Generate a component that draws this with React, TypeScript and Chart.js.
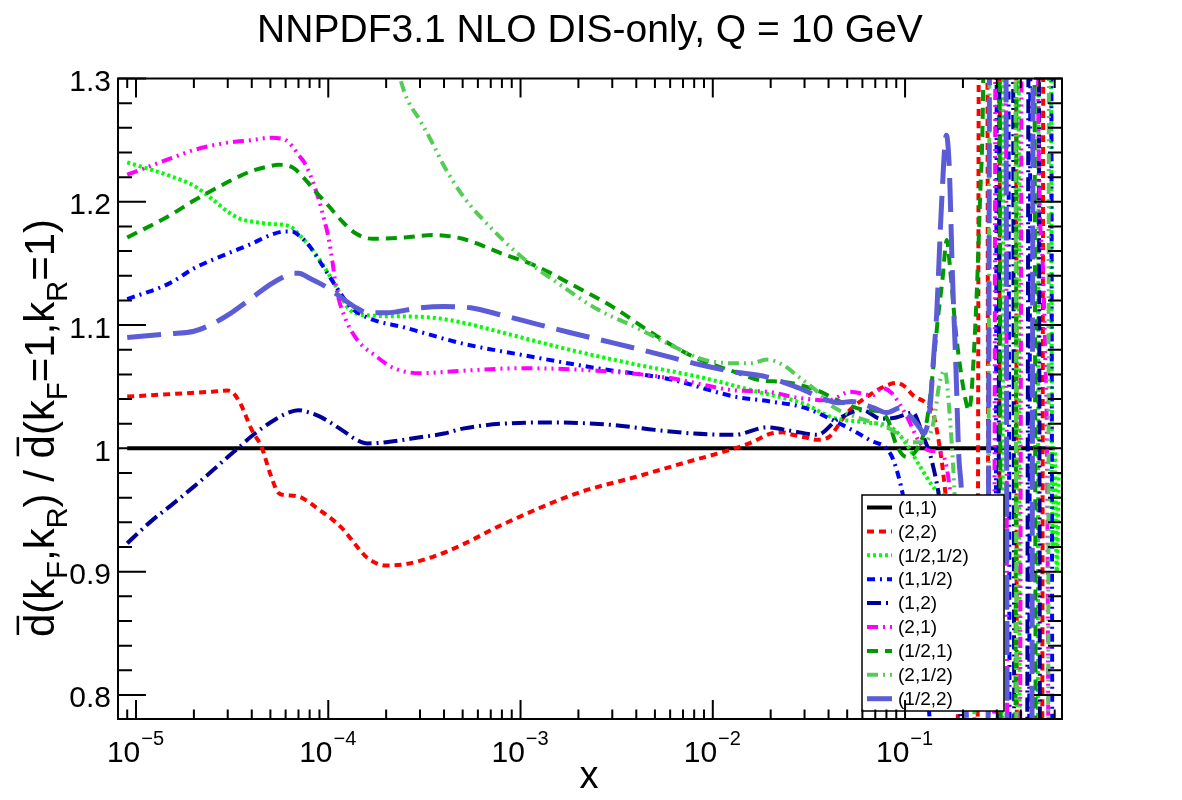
import React, { useEffect, useRef } from "react";
import { Chart, registerables } from "chart.js";

Chart.register(...registerables);

const FONT = '"Liberation Sans", Arial, Helvetica, sans-serif';

const TITLE = "NNPDF3.1 NLO DIS-only, Q = 10 GeV";
const X_TITLE = "x";
const X_MIN = 8.06e-6;
const X_MAX = 0.655;
const Y_MIN = 0.7805;
const Y_MAX = 1.3;
const Y_TICK_VALUES = [0.8, 0.9, 1.0, 1.1, 1.2, 1.3];
const Y_TICK_LABELS = ["0.8", "0.9", "1", "1.1", "1.2", "1.3"];
const X_TICK_DECADES = [-5, -4, -3, -2, -1];

// (1,1)
const X_11 = [9e-6, 0.6];
const Y_11 = [1, 1];

// (2,2)
const X_22 = [9e-6, 1.5e-5, 2.5e-5, 3e-5, 3.2e-5, 3.5e-5, 4e-5, 4.5e-5, 5e-5, 5.5e-5, 6e-5, 7e-5, 8e-5, 9e-5, 1e-4, 1.2e-4, 1.4e-4, 1.6e-4, 2e-4, 2.5e-4, 3.5e-4, 5e-4, 8e-4, 2e-3, 4e-3, 7e-3, 1.3e-2, 1.6e-2, 2e-2, 2.3e-2, 2.6e-2, 3e-2, 3.5e-2, 4e-2, 5e-2, 6.5e-2, 8e-2, 9e-2, 0.1, 0.11, 0.13, 0.14, 0.15, 0.16, 0.175, 0.195, 0.21, 0.235, 0.245, 0.265, 0.275, 0.305, 0.315, 0.375, 0.385, 0.51, 0.53, 0.55];
const Y_22 = [1.042, 1.044, 1.046, 1.047, 1.045, 1.036, 1.015, 1.001, 0.979, 0.964, 0.962, 0.961, 0.956, 0.95, 0.945, 0.934, 0.921, 0.911, 0.905, 0.906, 0.912, 0.922, 0.938, 0.964, 0.977, 0.988, 1.0, 1.005, 1.012, 1.013, 1.011, 1.009, 1.007, 1.009, 1.029, 1.043, 1.051, 1.053, 1.05, 1.043, 1.036, 1.028, 1.005, 0.972, 0.9, 0.7, 0.45, 0.4, 1.65, 1.65, 0.4, 0.4, 1.65, 1.65, 0.4, 0.4, 1.65, 1.65];

// (1/2,1/2)
const X_HH = [9e-6, 1.5e-5, 2e-5, 2.5e-5, 3e-5, 3.5e-5, 4e-5, 5e-5, 6e-5, 6.5e-5, 7e-5, 8e-5, 9e-5, 1e-4, 1.1e-4, 1.3e-4, 1.6e-4, 2.5e-4, 3.5e-4, 5e-4, 8e-4, 1.8e-3, 4e-3, 8.5e-3, 1.7e-2, 3e-2, 4.2e-2, 6.3e-2, 8.5e-2, 0.1, 0.12, 0.145, 0.17, 0.195, 0.215, 0.235, 0.25, 0.315, 0.33, 0.385, 0.4, 0.485, 0.5, 0.565, 0.585, 0.6, 0.615, 0.63];
const Y_HH = [1.232, 1.221, 1.213, 1.202, 1.192, 1.186, 1.184, 1.182, 1.181, 1.179, 1.174, 1.164, 1.153, 1.142, 1.131, 1.112, 1.108, 1.107, 1.106, 1.102, 1.094, 1.08, 1.068, 1.058, 1.046, 1.036, 1.025, 1.021, 1.017, 1.005, 0.985, 0.966, 0.96, 0.95, 0.93, 0.7, 0.4, 0.4, 1.65, 1.65, 0.4, 0.4, 1.65, 1.65, 0.92, 1.0, 0.9, 0.98];

// (1,1/2)
const X_1H = [9e-6, 1.5e-5, 2e-5, 3e-5, 4e-5, 5e-5, 6e-5, 6.5e-5, 7e-5, 8e-5, 9e-5, 1e-4, 1.1e-4, 1.3e-4, 1.6e-4, 2.5e-4, 5e-4, 1e-3, 2.5e-3, 6e-3, 1.3e-2, 2e-2, 3e-2, 4.2e-2, 6.5e-2, 8.5e-2, 9.5e-2, 0.105, 0.115, 0.13, 0.145, 0.16, 0.29, 0.305, 0.34, 0.355, 0.435, 0.455, 0.57, 0.59, 0.61];
const Y_1H = [1.121, 1.134, 1.146, 1.158, 1.166, 1.173, 1.176, 1.176, 1.173, 1.164, 1.152, 1.141, 1.131, 1.115, 1.106, 1.098, 1.085, 1.076, 1.065, 1.056, 1.042, 1.038, 1.033, 1.023, 1.007, 0.994, 0.97, 0.935, 0.89, 0.81, 0.68, 0.45, 0.4, 1.65, 1.65, 0.4, 0.4, 1.65, 1.65, 0.4, 0.4];

// (1,2)
const X_12 = [9e-6, 1.2e-5, 1.5e-5, 2e-5, 2.5e-5, 3e-5, 3.5e-5, 4e-5, 5e-5, 6e-5, 7e-5, 8e-5, 9e-5, 1e-4, 1.2e-4, 1.4e-4, 1.6e-4, 2e-4, 3e-4, 4e-4, 5e-4, 8e-4, 1.5e-3, 3e-3, 5e-3, 8e-3, 1.3e-2, 1.9e-2, 2.6e-2, 3.5e-2, 4.5e-2, 6e-2, 7.5e-2, 9e-2, 0.11, 0.12, 0.125, 0.135, 0.15, 0.17, 0.19, 0.21, 0.23, 0.3, 0.315, 0.36, 0.375, 0.425, 0.445, 0.49, 0.51, 0.56];
const Y_12 = [0.923, 0.941, 0.953, 0.969, 0.982, 0.993, 1.002, 1.01, 1.021, 1.028, 1.031, 1.029, 1.026, 1.022, 1.014, 1.007, 1.004, 1.005, 1.009, 1.012, 1.016, 1.02, 1.021, 1.019, 1.015, 1.012, 1.011, 1.017, 1.014, 1.011, 1.024, 1.031, 1.024, 1.025, 1.029, 1.017, 1.009, 0.995, 0.962, 0.9, 0.8, 0.68, 0.45, 0.4, 1.65, 1.65, 0.4, 0.4, 1.65, 1.65, 0.4, 0.4];

// (2,1)
const X_21 = [9e-6, 1.5e-5, 2e-5, 3e-5, 4e-5, 5e-5, 6e-5, 6.5e-5, 7e-5, 7.5e-5, 8e-5, 8.5e-5, 9e-5, 9.5e-5, 1e-4, 1.05e-4, 1.1e-4, 1.2e-4, 1.4e-4, 1.8e-4, 2.2e-4, 3e-4, 5e-4, 1e-3, 2.5e-3, 6e-3, 1e-2, 1.3e-2, 1.9e-2, 2.8e-2, 4e-2, 5.2e-2, 6.8e-2, 7.6e-2, 8.5e-2, 0.102, 0.12, 0.135, 0.155, 0.17, 0.185, 0.205, 0.22, 0.285, 0.3, 0.33, 0.345, 0.39, 0.41, 0.48, 0.495, 0.52, 0.535, 0.55, 0.565];
const Y_21 = [1.222, 1.235, 1.242, 1.248, 1.25, 1.252, 1.25, 1.245, 1.238, 1.232, 1.223, 1.212, 1.2, 1.186, 1.172, 1.152, 1.13, 1.109, 1.089, 1.074, 1.065, 1.061, 1.063, 1.065, 1.063, 1.057, 1.05, 1.047, 1.046, 1.041, 1.039, 1.046, 1.043, 1.049, 1.045, 1.026, 1.004, 0.998, 0.996, 0.97, 0.9, 0.75, 0.45, 0.4, 1.65, 1.65, 0.4, 0.4, 1.65, 1.65, 1.25, 1.15, 1.08, 0.95, 0.4];

// (1/2,1)
const X_H1 = [9e-6, 1.5e-5, 2e-5, 3e-5, 4e-5, 5e-5, 5.5e-5, 6.5e-5, 7.5e-5, 8.5e-5, 1e-4, 1.2e-4, 1.4e-4, 1.7e-4, 2.5e-4, 3.5e-4, 5e-4, 8e-4, 1.2e-3, 2e-3, 3e-3, 5e-3, 8e-3, 1.3e-2, 1.8e-2, 2.3e-2, 3.5e-2, 4.6e-2, 6.3e-2, 7.4e-2, 8.2e-2, 9e-2, 0.102, 0.115, 0.13, 0.138, 0.148, 0.156, 0.165, 0.171, 0.185, 0.206, 0.215, 0.232, 0.245, 0.255, 0.265, 0.305, 0.32, 0.37, 0.385, 0.465, 0.485, 0.55];
const Y_H1 = [1.171, 1.189, 1.201, 1.216, 1.225, 1.229, 1.23, 1.228, 1.219, 1.209, 1.197, 1.183, 1.174, 1.17, 1.171, 1.173, 1.17, 1.158, 1.148, 1.13, 1.115, 1.092, 1.074, 1.062, 1.055, 1.054, 1.047, 1.038, 1.031, 1.03, 1.022, 1.003, 0.993, 0.999, 1.023, 1.055, 1.105, 1.135, 1.169, 1.148, 1.09, 1.04, 1.031, 1.1, 1.199, 1.3, 1.65, 1.65, 0.4, 0.4, 1.65, 1.65, 0.4, 0.4];

// (2,1/2)
const X_2H = [2e-4, 2.5e-4, 3e-4, 3.5e-4, 4e-4, 5e-4, 7e-4, 1e-3, 1.5e-3, 2.5e-3, 4e-3, 6e-3, 9e-3, 1.3e-2, 1.6e-2, 1.9e-2, 2.3e-2, 2.8e-2, 3.5e-2, 4.2e-2, 5.2e-2, 6.8e-2, 8.3e-2, 0.11, 0.126, 0.14, 0.152, 0.161, 0.17, 0.18, 0.188, 0.205, 0.22, 0.265, 0.28, 0.37, 0.385, 0.55, 0.565, 0.62];
const Y_2H = [1.345, 1.288, 1.266, 1.247, 1.229, 1.205, 1.179, 1.156, 1.136, 1.113, 1.098, 1.084, 1.072, 1.069, 1.069, 1.072, 1.068, 1.058, 1.046, 1.034, 1.027, 1.021, 1.016, 1.005, 1.005, 1.02, 1.055, 1.063, 1.03, 0.97, 0.9, 0.75, 0.45, 0.4, 1.65, 1.65, 0.4, 0.4, 1.65, 1.65];

// (1/2,2)
const X_H2 = [9e-6, 1.5e-5, 2e-5, 2.5e-5, 3e-5, 4e-5, 5e-5, 6e-5, 6.5e-5, 7e-5, 8e-5, 1e-4, 1.2e-4, 1.4e-4, 1.6e-4, 2e-4, 3e-4, 4e-4, 5.5e-4, 8e-4, 1.2e-3, 1.8e-3, 2.6e-3, 4e-3, 6e-3, 8.5e-3, 1.3e-2, 1.9e-2, 2.8e-2, 3.8e-2, 4.5e-2, 5.3e-2, 6.8e-2, 8e-2, 9.5e-2, 0.105, 0.12, 0.125, 0.135, 0.14, 0.146, 0.155, 0.164, 0.17, 0.176, 0.184, 0.19, 0.197, 0.205, 0.22, 0.265, 0.28, 0.33, 0.345, 0.45, 0.47, 0.52];
const Y_H2 = [1.09, 1.093, 1.095, 1.101, 1.108, 1.122, 1.133, 1.14, 1.142, 1.142, 1.138, 1.13, 1.121, 1.114, 1.11, 1.11, 1.114, 1.115, 1.114, 1.108, 1.101, 1.094, 1.088, 1.081, 1.074, 1.068, 1.062, 1.058, 1.049, 1.04, 1.037, 1.038, 1.033, 1.029, 1.033, 1.027, 1.016, 1.012, 1.034, 1.069, 1.109, 1.2, 1.254, 1.226, 1.145, 1.064, 0.996, 0.96, 0.85, 0.55, 0.4, 1.65, 1.65, 0.4, 0.4, 1.65, 1.65];

const SERIES = [
  { label: "(1,1)", xs: X_11, ys: Y_11, color: "#000000", width: 4, dash: [] as number[] },
  { label: "(2,2)", xs: X_22, ys: Y_22, color: "#ff0000", width: 4, dash: [7, 5] },
  { label: "(1/2,1/2)", xs: X_HH, ys: Y_HH, color: "#00ff00", width: 4, dash: [3, 3] },
  { label: "(1,1/2)", xs: X_1H, ys: Y_1H, color: "#0000ff", width: 4, dash: [8, 5, 2, 5] },
  { label: "(1,2)", xs: X_12, ys: Y_12, color: "#000099", width: 4, dash: [14, 5, 2, 5] },
  { label: "(2,1)", xs: X_21, ys: Y_21, color: "#ff00ff", width: 4, dash: [11, 5, 2, 5, 2, 5, 2, 5] },
  { label: "(1/2,1)", xs: X_H1, ys: Y_H1, color: "#009900", width: 4, dash: [11, 7] },
  { label: "(2,1/2)", xs: X_2H, ys: Y_2H, color: "#55cc55", width: 4, dash: [11, 5, 2, 5, 2, 5] },
  { label: "(1/2,2)", xs: X_H2, ys: Y_H2, color: "#5c5cd6", width: 5, dash: [34, 12] },
];

type Part = { t: string; sub?: boolean; bar?: boolean };
const Y_TITLE_PARTS: Part[] = [
  { t: "d", bar: true }, { t: "(k" }, { t: "F", sub: true }, { t: ",k" }, { t: "R", sub: true }, { t: ") / " },
  { t: "d", bar: true }, { t: "(k" }, { t: "F", sub: true }, { t: "=1,k" }, { t: "R", sub: true }, { t: "=1)" },
];

function drawRich(ctx: CanvasRenderingContext2D, parts: Part[], cx: number, baseY: number, fs: number, sfs: number) {
  const widths: number[] = [];
  let total = 0;
  for (const p of parts) {
    ctx.font = `${p.sub ? sfs : fs}px ${FONT}`;
    const w = ctx.measureText(p.t).width;
    widths.push(w);
    total += w;
  }
  let x = cx - total / 2;
  ctx.textAlign = "left";
  ctx.textBaseline = "alphabetic";
  parts.forEach((p, i) => {
    ctx.font = `${p.sub ? sfs : fs}px ${FONT}`;
    const y = p.sub ? baseY + fs * 0.3 : baseY;
    ctx.fillText(p.t, x, y);
    if (p.bar) {
      ctx.beginPath();
      ctx.lineWidth = 2.5;
      ctx.moveTo(x + fs * 0.05, baseY - fs * 0.86);
      ctx.lineTo(x + widths[i] - fs * 0.05, baseY - fs * 0.86);
      ctx.stroke();
    }
    x += widths[i];
  });
}

const rootPlugin = {
  id: "rootDecor",
  beforeDraw(chart: any) {
    const ctx = chart.ctx;
    ctx.save();
    ctx.fillStyle = "#ffffff";
    ctx.fillRect(0, 0, chart.width, chart.height);
    ctx.restore();
  },
  afterDatasetsDraw(chart: any) {
    const ctx: CanvasRenderingContext2D = chart.ctx;
    const { left, right, top, bottom } = chart.chartArea;
    const xs = chart.scales.x;
    const ys = chart.scales.y;
    ctx.save();

    // legend box
    const lx = 862, ly = 495, lw = 142, lh = 216;
    ctx.fillStyle = "#ffffff";
    ctx.fillRect(lx, ly, lw, lh);
    ctx.strokeStyle = "#000000";
    ctx.lineWidth = 1.5;
    ctx.strokeRect(lx, ly, lw, lh);
    SERIES.forEach((s, i) => {
      const y = 507.5 + i * 23.9;
      ctx.beginPath();
      ctx.setLineDash(s.dash);
      ctx.strokeStyle = s.color;
      ctx.lineWidth = s.width;
      ctx.moveTo(867, y);
      ctx.lineTo(892, y);
      ctx.stroke();
      ctx.setLineDash([]);
      ctx.fillStyle = "#000000";
      ctx.font = `19px ${FONT}`;
      ctx.textAlign = "left";
      ctx.textBaseline = "middle";
      ctx.fillText(s.label, 898, y + 1);
    });

    // frame
    ctx.setLineDash([]);
    ctx.strokeStyle = "#000000";
    ctx.lineWidth = 2;
    ctx.strokeRect(left, top, right - left, bottom - top);

    // y ticks
    ctx.lineWidth = 2;
    for (let k = 39; k <= 65; k++) {
      const v = k * 0.02;
      if (v < Y_MIN - 1e-9 || v > Y_MAX + 1e-9) continue;
      const py = ys.getPixelForValue(v);
      const len = k % 5 === 0 ? 28 : 14;
      ctx.beginPath();
      ctx.moveTo(left, py);
      ctx.lineTo(left + len, py);
      ctx.moveTo(right, py);
      ctx.lineTo(right - len, py);
      ctx.stroke();
    }
    // x ticks
    for (let d = -6; d <= 0; d++) {
      for (let m = 1; m <= 9; m++) {
        const v = m * Math.pow(10, d);
        if (v < X_MIN || v > X_MAX) continue;
        const px = xs.getPixelForValue(v);
        const len = m === 1 ? 19 : 9.5;
        ctx.beginPath();
        ctx.moveTo(px, bottom);
        ctx.lineTo(px, bottom - len);
        ctx.moveTo(px, top);
        ctx.lineTo(px, top + len);
        ctx.stroke();
      }
    }

    // y labels
    ctx.fillStyle = "#000000";
    ctx.font = `30px ${FONT}`;
    ctx.textAlign = "right";
    ctx.textBaseline = "alphabetic";
    Y_TICK_VALUES.forEach((v, i) => {
      const py = ys.getPixelForValue(v);
      ctx.fillText(Y_TICK_LABELS[i], 111, py + 12.5);
    });

    // x labels 10^n
    X_TICK_DECADES.forEach((d) => {
      const px = xs.getPixelForValue(Math.pow(10, d));
      ctx.font = `30px ${FONT}`;
      const w1 = ctx.measureText("10").width;
      const sup = "\u2212" + String(-d);
      ctx.font = `20px ${FONT}`;
      const w2 = ctx.measureText(sup).width;
      const x0 = px - (w1 + w2) / 2 - 1;
      ctx.textAlign = "left";
      ctx.font = `30px ${FONT}`;
      ctx.fillText("10", x0, 762);
      ctx.font = `20px ${FONT}`;
      ctx.fillText(sup, x0 + w1 + 1, 745);
    });

    // x title
    ctx.font = `38px ${FONT}`;
    ctx.textAlign = "center";
    ctx.fillText(X_TITLE, 589, 788);

    // title
    ctx.font = `39px ${FONT}`;
    ctx.textAlign = "center";
    ctx.fillText(TITLE, 590, 42);

    // y title
    ctx.save();
    ctx.translate(54, 428);
    ctx.rotate(-Math.PI / 2);
    ctx.strokeStyle = "#000000";
    drawRich(ctx, Y_TITLE_PARTS, 0, 0, 42, 29);
    ctx.restore();

    ctx.restore();
  },
};

export default function App() {
  const ref = useRef<HTMLCanvasElement | null>(null);
  useEffect(() => {
    if (!ref.current) return;
    const datasets = SERIES.map((s, i) => ({
      label: s.label,
      data: s.xs.map((x, j) => ({ x, y: s.ys[j] })),
      borderColor: s.color,
      backgroundColor: s.color,
      borderWidth: s.width,
      borderDash: s.dash,
      borderCapStyle: "butt" as const,
      pointRadius: 0,
      fill: false,
      cubicInterpolationMode: "monotone" as const,
      clip: 0,
      order: SERIES.length - i,
    }));
    const chart = new Chart(ref.current, {
      type: "line",
      data: { datasets },
      options: {
        responsive: false,
        animation: false,
        devicePixelRatio: 1,
        events: [],
        layout: { padding: { left: 118, right: 120, top: 78.5, bottom: 81 } },
        plugins: { legend: { display: false }, tooltip: { enabled: false }, title: { display: false } },
        scales: {
          x: { type: "logarithmic", min: X_MIN, max: X_MAX, display: false },
          y: { type: "linear", min: Y_MIN, max: Y_MAX, display: false },
        },
      },
      plugins: [rootPlugin],
    } as any);
    return () => chart.destroy();
  }, []);
  return (
    <div style={{ position: "absolute", left: 0, top: 0, width: 1182, height: 800, background: "#fff" }}>
      <canvas ref={ref} width={1182} height={800} style={{ display: "block", width: 1182, height: 800 }} />
    </div>
  );
}
